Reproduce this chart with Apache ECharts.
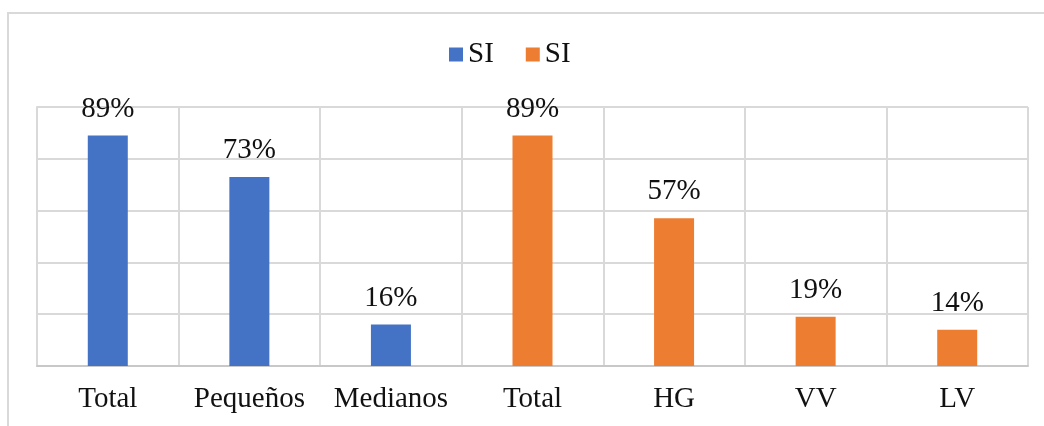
<!DOCTYPE html>
<html>
<head>
<meta charset="utf-8">
<script src="https://cdn.jsdelivr.net/npm/echarts@6/dist/echarts.min.js"></script>
<style>
html,body{margin:0;padding:0;background:#fff;}
#chart{width:1044px;height:426px;}
</style>
</head>
<body>
<div id="chart"></div>
<script>
var categories = ['Total', 'Pequeños', 'Medianos', 'Total', 'HG', 'VV', 'LV'];
var siTamano = [89, 73, 16];
var siZona = [89, 57, 19, 14];
var seriesNames = ['SI', 'SI '];
var yTicks = [0, 20, 40, 60, 80, 100];

var blueData = categories.map(function (c, i) { return i < siTamano.length ? siTamano[i] : null; });
var orangeData = categories.map(function (c, i) { return i >= siTamano.length ? siZona[i - siTamano.length] : null; });

var FONT = 'Liberation Serif';
var chart = echarts.init(document.getElementById('chart'));
var labelCfg = {
  show: true, position: 'top', distance: 12,
  fontFamily: FONT, fontSize: 29, color: '#111',
  formatter: function (p) { return p.value + '%'; }
};
chart.setOption({
  animation: false,
  backgroundColor: '#fff',
  graphic: [{
    type: 'rect', shape: { x: 8, y: 13, width: 1100, height: 500 },
    style: { fill: 'none', stroke: '#d9d9d9', lineWidth: 2 }, silent: true
  }],
  legend: {
    left: 449, top: 40, padding: 0, itemWidth: 14, itemHeight: 14, itemGap: 32,
    icon: 'rect',
    data: seriesNames,
    formatter: function (n) { return n.trim(); },
    textStyle: { fontFamily: FONT, fontSize: 29, color: '#111' }
  },
  grid: { left: 37, right: 16, top: 107, bottom: 60, containLabel: false },
  xAxis: {
    type: 'category', data: categories,
    axisLine: { show: true, lineStyle: { color: '#c8c8c8', width: 2 } },
    axisTick: { show: false },
    splitLine: { show: true, lineStyle: { color: '#d9d9d9', width: 2 } },
    axisLabel: { interval: 0, margin: 19, fontFamily: FONT, fontSize: 29, color: '#111' }
  },
  yAxis: {
    type: 'value', min: yTicks[0], max: yTicks[yTicks.length - 1], interval: 20,
    axisLine: { show: true, lineStyle: { color: '#d9d9d9', width: 2 } },
    axisTick: { show: false },
    axisLabel: { show: false },
    splitLine: { show: true, lineStyle: { color: '#d9d9d9', width: 2 } }
  },
  series: [
    { name: seriesNames[0], type: 'bar', stack: 's', barWidth: 40, data: blueData,
      itemStyle: { color: '#4472C4' }, label: labelCfg },
    { name: seriesNames[1], type: 'bar', stack: 's', barWidth: 40, data: orangeData,
      itemStyle: { color: '#ED7D31' }, label: labelCfg }
  ]
});
</script>
</body>
</html>
